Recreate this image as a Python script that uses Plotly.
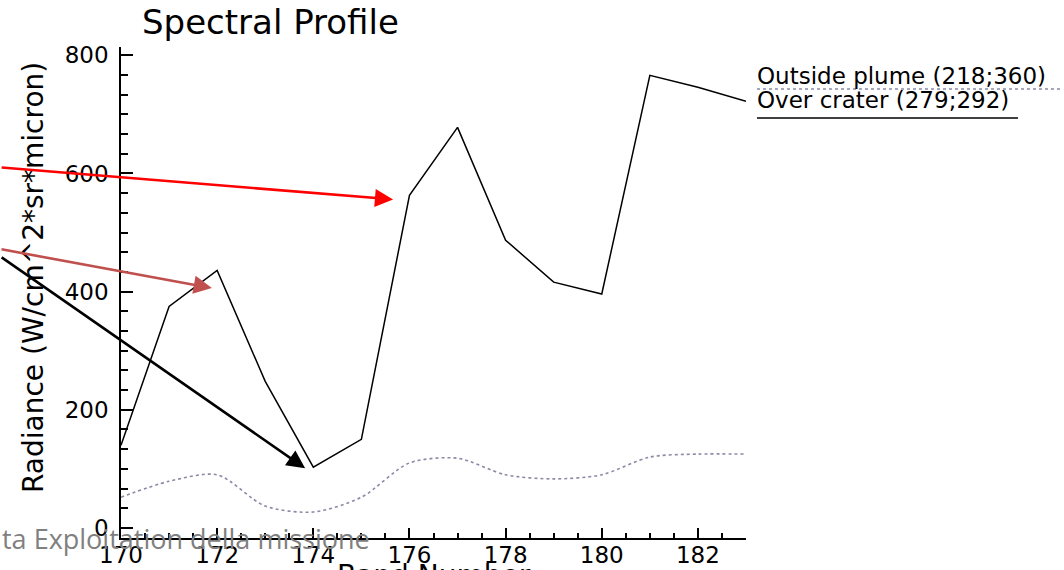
import plotly.graph_objects as go

# Band numbers and radiance values for the two sampled pixels
bands = [170, 171, 172, 173, 174, 175, 176, 177, 178, 179, 180, 181, 182, 183]
over_crater = [140, 375, 436, 248, 103, 150, 563, 678, 487, 416, 396, 766, 746, 722]
outside_plume = [52, 79, 90, 37, 27, 52, 110, 118, 90, 83, 90, 120, 125, 125]

y_ticks = [0, 200, 400, 600, 800]
x_ticks = [170, 172, 174, 176, 178, 180, 182]

W, H = 1064, 570
L, R, T, B = 121, 746, 47, 538  # plot area in pixels


def px(x):
    return (x - L) / (R - L)


def py(y):
    return (B - y) / (B - T)


FONT = "DejaVu Sans"

fig = go.Figure()

fig.add_trace(go.Scatter(
    x=bands, y=outside_plume, mode="lines",
    line=dict(color="#8a8aa6", width=1.6, dash="dot", shape="spline", smoothing=0.8),
    name="Outside plume (218;360)", showlegend=False, hoverinfo="skip",
))
fig.add_trace(go.Scatter(
    x=bands, y=over_crater, mode="lines",
    line=dict(color="black", width=1.5),
    name="Over crater (279;292)", showlegend=False, hoverinfo="skip",
))

fig.update_layout(
    width=W, height=H,
    margin=dict(l=L, r=W - R, t=T, b=H - B, pad=0, autoexpand=False),
    paper_bgcolor="white", plot_bgcolor="white",
    font=dict(family=FONT, color="black", size=22),
    xaxis=dict(
        range=[170, 183], tickvals=x_ticks, ticktext=[str(v) for v in x_ticks],
        ticks="inside", ticklen=10, tickwidth=1.5, tickcolor="black",
        minor=dict(dtick=0.5, tick0=170, ticks="inside", ticklen=5, tickwidth=1.5, tickcolor="black"),
        showline=True, linecolor="black", linewidth=1.5,
        showgrid=False, zeroline=False, ticklabelstandoff=-4, automargin=False,
        tickfont=dict(size=23, family=FONT),
    ),
    yaxis=dict(
        range=[-17, 814], tickvals=y_ticks, ticktext=[str(v) for v in y_ticks],
        ticks="inside", ticklen=12, tickwidth=1.5, tickcolor="black",
        minor=dict(dtick=200 / 6, tick0=0, ticks="inside", ticklen=7, tickwidth=1.5, tickcolor="black"),
        showline=True, linecolor="black", linewidth=1.5,
        showgrid=False, zeroline=False, ticklabelstandoff=6, automargin=False,
        tickfont=dict(size=23, family=FONT),
    ),
)

annotations = [
    # title
    dict(text="Spectral Profile", x=px(140), y=py(22), xref="paper", yref="paper",
         xanchor="left", yanchor="middle", showarrow=False, font=dict(size=34, family=FONT)),
    # y-axis title
    dict(text="Radiance (W/cm^2*sr*micron)", x=px(33), y=py(278), xref="paper", yref="paper",
         xanchor="center", yanchor="middle", textangle=-90, showarrow=False,
         font=dict(size=28, family=FONT)),
    # x-axis title
    dict(text="Band Number", x=0.5, y=py(557), xref="paper", yref="paper",
         xanchor="center", yanchor="top", showarrow=False, font=dict(size=28, family=FONT)),
    # legend entries
    dict(text="Outside plume (218;360)", x=px(755), y=py(76), xref="paper", yref="paper",
         xanchor="left", yanchor="middle", showarrow=False, font=dict(size=23, family=FONT)),
    dict(text="Over crater (279;292)", x=px(755), y=py(100), xref="paper", yref="paper",
         xanchor="left", yanchor="middle", showarrow=False, font=dict(size=23, family=FONT)),
]

# arrows pointing at features of the crater spectrum
arrows = [
    (175.66, 556, -393, -32, "#ff0000"),
    (171.89, 406, -212, -39, "#c0504d"),
    (173.83, 101, -305, -212, "#000000"),
]
for x, y, ax, ay, col in arrows:
    annotations.append(dict(
        x=x, y=y, xref="x", yref="y", ax=ax, ay=ay, axref="pixel", ayref="pixel",
        text="", showarrow=True, arrowhead=2, arrowsize=1.4, arrowwidth=2.6,
        arrowcolor=col,
    ))

# overlaid caption text
annotations.append(dict(
    text="ta Exploitation della missione", x=px(0), y=py(559), xref="paper", yref="paper",
    xanchor="left", yanchor="bottom", showarrow=False,
    font=dict(size=27, family="Open Sans", color="#808080"),
))

fig.update_layout(annotations=annotations)

# legend line samples
fig.add_shape(type="line", xref="paper", yref="paper",
              x0=px(757), x1=px(1060), y0=py(89), y1=py(89),
              line=dict(color="#8a8aa6", width=1.6, dash="dot"))
fig.add_shape(type="line", xref="paper", yref="paper",
              x0=px(757), x1=px(1018), y0=py(118), y1=py(118),
              line=dict(color="black", width=1.6))

fig.write_html("out.html")
